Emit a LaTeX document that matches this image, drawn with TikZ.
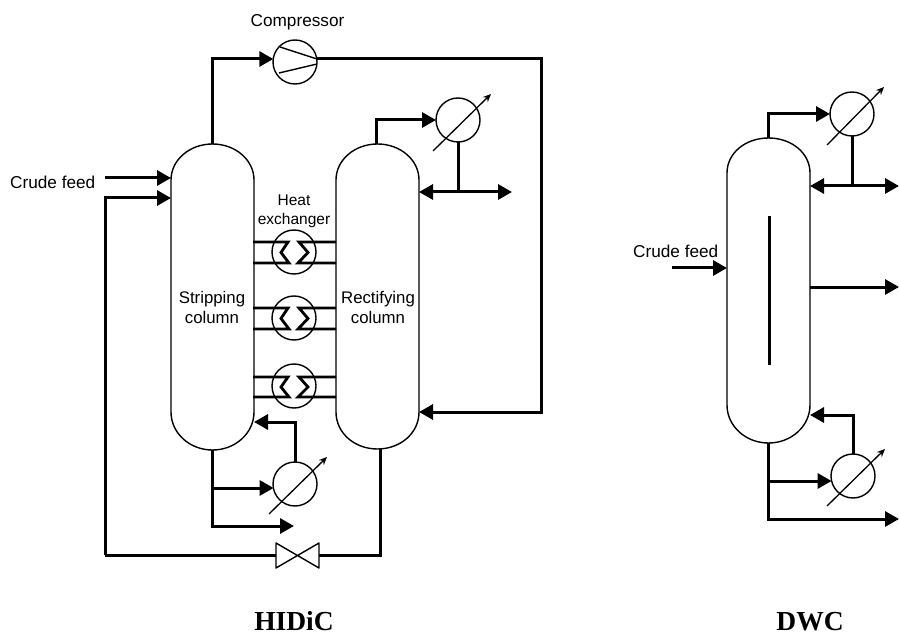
\documentclass[tikz,border=0pt]{standalone}
\usepackage{fontspec}
\setmainfont{Liberation Sans}
\newfontfamily\titlefont{Liberation Serif}
\usetikzlibrary{arrows.meta}
\tikzset{
  x=1pt,y=-1pt,
  thinline/.style={line width=1.4pt,line join=round},
  pipe/.style={line width=3pt,line join=miter},
  flow/.style={pipe,-{Triangle[length=14pt,width=15pt]}},
  biflow/.style={pipe,{Triangle[length=14pt,width=15pt]}-{Triangle[length=14pt,width=15pt]}},
  unit/.style={circle,draw,line width=1.4pt,minimum size=44pt,inner sep=0pt,outer sep=0pt},
  adjust/.style={line width=1.3pt,-{Stealth[length=8pt,width=7pt]}},
  coil/.style={line width=2.8pt,line join=miter},
  lbl/.style={font=\fontsize{17.2}{18}\selectfont,inner sep=0pt,align=center},
  ttl/.style={font=\titlefont\bfseries\fontsize{27.5}{29}\selectfont,inner sep=0pt},
}
\begin{document}
\begin{tikzpicture}
\useasboundingbox (0,0) rectangle (899,636);
% columns
\draw[thinline] (171,180) .. controls (171,160) and (189.5,144) .. (212.5,144) .. controls (235.5,144) and (254,160) .. (254,180)
  -- (254,412) .. controls (254,433) and (235.5,450) .. (212.5,450) .. controls (189.5,450) and (171,433) .. (171,412) -- cycle;
\draw[thinline] (336,180) .. controls (336,160) and (354.5,144) .. (377.5,144) .. controls (400.5,144) and (419,160) .. (419,180)
  -- (419,412) .. controls (419,433) and (400.5,449) .. (377.5,449) .. controls (354.5,449) and (336,433) .. (336,412) -- cycle;
\draw[thinline] (727,173) .. controls (727,153) and (745.5,138) .. (768.5,138) .. controls (791.5,138) and (810,153) .. (810,173)
  -- (810,405) .. controls (810,426) and (791.5,443) .. (768.5,443) .. controls (745.5,443) and (727,426) .. (727,405) -- cycle;
% units
\node[unit] (comp) at (295,62) {};
\node[unit] (cond) at (458,120) {};
\node[unit] (reb) at (295,484) {};
\node[unit] (hxa) at (294,252) {};
\node[unit] (hxb) at (294,318) {};
\node[unit] (hxc) at (294,386) {};
\node[unit] (dcond) at (852,114) {};
\node[unit] (dreb) at (853,476) {};
% coordinates
\coordinate (stop) at (212.5,144);
\coordinate (sbot) at (212.5,450);
\coordinate (rtop) at (376.5,144);
\coordinate (rbot) at (380,449);
\coordinate (dtop) at (768.5,138);
\coordinate (dbot) at (768.5,443);
\coordinate (compin) at (273.3,59);
\coordinate (compout) at (316.5,59);
\coordinate (corner) at (541,59);
\coordinate (rfeed) at (419,412);
\coordinate (refl) at (419,192);
\coordinate (prod) at (512,192);
\coordinate (crudeA) at (105,178);
\coordinate (sfeedA) at (171,178);
\coordinate (retA) at (105,555);
\coordinate (sfeedB) at (171,198);
\coordinate (valveL) at (276,555);
\coordinate (valveR) at (319,555);
\coordinate (sboil) at (254,422);
\coordinate (bprod) at (294,526);
\coordinate (rebin) at (273.6,488);
\coordinate (drefl) at (810,186);
\coordinate (dprodA) at (899,186);
\coordinate (dsideA) at (810,287);
\coordinate (dsideB) at (899,287);
\coordinate (dfeedA) at (672,268);
\coordinate (dfeedB) at (727,268);
\coordinate (dboil) at (810,415);
\coordinate (dprodB) at (899,519);
\coordinate (drebin) at (831.6,481);
\coordinate (divA) at (769,216);
\coordinate (divB) at (769,365);
% compressor internals
\draw[thinline] (280,47) -- (317,59) (279,73) -- (317,64);
% adjustable arrows
\draw[adjust] (433,151) -- (491,94);
\draw[adjust] (269,514) -- (327,457);
\draw[adjust] (827,145) -- (884,87);
\draw[adjust] (827,506) -- (885,449);
% HIDiC pipes
\draw[flow] (stop) |- (compin);
\draw[flow] (compout) -- (corner) |- (rfeed);
\draw[flow] (rtop) |- (cond.west);
\draw[pipe] (cond.south) -- (cond.south |- refl);
\draw[biflow] (refl) -- (prod);
\draw[flow] (crudeA) -- (sfeedA);
\draw[flow] (retA) |- (sfeedB);
\draw[pipe] (valveL) -- (retA);
\draw[pipe] (valveR) -| (rbot);
\draw[flow] (reb.north) |- (sboil);
\draw[flow] (sbot) |- (bprod);
\draw[flow] (sbot |- rebin) -- (rebin);
% valve
\draw[thinline] (valveL |- 0,543) -- (valveR |- 0,568) -- (valveR |- 0,543) -- (valveL |- 0,568) -- cycle;
% heat exchangers
\foreach \u/\a/\b in {hxa/242/263,hxb/308/329,hxc/377/397}{
  \draw[coil] (253,\a) -- (288,\a) -- (281,{(\a+\b)/2}) -- (289,\b) -- (253,\b);
  \draw[coil] (336,\a) -- (299,\a) -- (308,{(\a+\b)/2}) -- (298,\b) -- (336,\b);
}
% DWC pipes
\draw[flow] (dtop) |- (dcond.west);
\draw[pipe] (dcond.south) -- (dcond.south |- drefl);
\draw[biflow] (drefl) -- (dprodA);
\draw[flow] (dsideA) -- (dsideB);
\draw[flow] (dfeedA) -- (dfeedB);
\draw[pipe] (divA) -- (divB);
\draw[flow] (dreb.north) |- (dboil);
\draw[flow] (dbot) |- (dprodB);
\draw[flow] (dbot |- drebin) -- (drebin);
% labels
\node[lbl] (lcomp) at (297.5,22) {Compressor};
\node[lbl,anchor=west] (lcrude) at (10,182) {Crude feed};
\node[lbl,font=\fontsize{15.5}{19}\selectfont] (lheat) at (294,211) {Heat\\exchanger};
\node[lbl,font=\fontsize{16.8}{20}\selectfont] (lstrip) at (212,307.5) {Stripping\\column};
\node[lbl,font=\fontsize{16.8}{20}\selectfont] (lrect) at (378,307.5) {Rectifying\\column};
\node[lbl,anchor=west] (ldcrude) at (633,251) {Crude feed};
\node[ttl] (lhidic) at (294,621.5) {HIDiC};
\node[ttl] (ldwc) at (810,621.5) {DWC};
\end{tikzpicture}
\end{document}
